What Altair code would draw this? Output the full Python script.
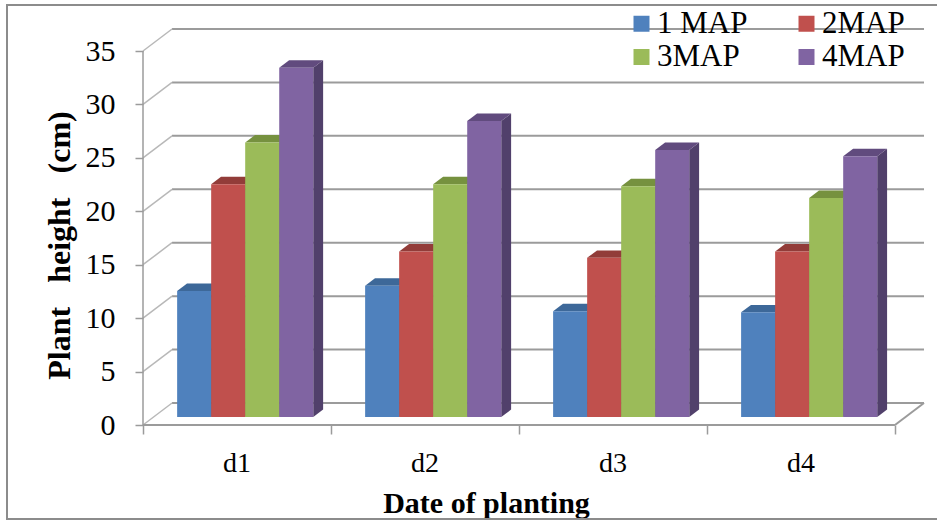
import altair as alt
import pandas as pd

# ---- data -------------------------------------------------------------
DATES = ["d1", "d2", "d3", "d4"]
SERIES = ["1 MAP", "2MAP", "3MAP", "4MAP"]
MAP1 = [11.8, 12.3, 9.9, 9.8]
MAP2 = [21.8, 15.5, 14.9, 15.5]
MAP3 = [25.7, 21.8, 21.6, 20.5]
MAP4 = [32.7, 27.7, 25.0, 24.4]
Y_TICKS = [0, 5, 10, 15, 20, 25, 30, 35]

# ---- styles -----------------------------------------------------------
FRONT = ["#4F81BD", "#C0504D", "#9BBB59", "#8064A2"]
TOP = ["#3D6899", "#923C39", "#76913F", "#614B7E"]
SIDE = ["#31577F", "#7F3432", "#627833", "#51406B"]
FONT = "Liberation Serif"
GRID = "#9b9b9b"
WALL = "#b8b8b8"

# oblique projection of the box (depth expressed in data units)
DX = 0.1545   # horizontal shift of the full depth, in category units
DY = 2.06     # vertical shift of the full depth, in value units
F0 = 0.36     # depth at which the bar front faces sit
FD = 0.34     # depth of a bar
W = 0.181     # bar width
NUDGE = 0.012  # groups sit slightly left of the category centre
N = len(DATES)

XS = alt.Scale(domain=[0, N + DX], nice=False, zero=False)
YS = alt.Scale(domain=[0, 35 + DY], nice=False, zero=False)

X_AXIS = alt.Axis(
    values=list(range(N + 1)), labels=False, domain=False, grid=False,
    tickSize=9, tickColor=GRID, tickWidth=1.5,
    title="Date of planting", titleFont=FONT, titleFontSize=30,
    titleFontWeight="bold", titleColor="black", titleX=343, titleY=87,
    titleBaseline="alphabetic", titleAlign="center")
Y_AXIS = alt.Axis(
    values=Y_TICKS, domain=False, grid=False, tickSize=8, tickColor=GRID,
    tickWidth=1.5, labelFont=FONT, labelFontSize=30, labelColor="black",
    labelPadding=20,
    title="Plant\u00a0\u00a0\u00a0height\u00a0\u00a0\u00a0(cm)",
    titleFont=FONT, titleFontSize=32, titleFontWeight="bold",
    titleColor="black", titleX=-74, titleY=216, titleAngle=270,
    titleBaseline="alphabetic", titleAlign="center")

# ---- geometry built from the data -------------------------------------
values = [MAP1, MAP2, MAP3, MAP4]
front, side, cap = [], [], []
for i, d in enumerate(DATES):
    left = i + 0.5 + F0 * DX - 2 * W - NUDGE
    for j, s in enumerate(SERIES):
        v = values[j][i]
        x0 = left + j * W
        x1 = x0 + W
        key = f"{d}-{s}"
        front.append(dict(series=s, x=x0, x2=x1, y=F0 * DY, y2=v + F0 * DY))
        for t in (0.0, 1.0):
            sh = t * FD
            side.append(dict(key=key, series=s, x=x1 + sh * DX,
                             y=(F0 + sh) * DY, y2=v + (F0 + sh) * DY))
            cap.append(dict(key=key, series=s, y=v + (F0 + sh) * DY,
                            x=x0 + sh * DX, x2=x1 + sh * DX))
front, side, cap = map(pd.DataFrame, (front, side, cap))

back_grid = pd.DataFrame(dict(x=DX, x2=N + DX, y=[v + DY for v in Y_TICKS]))
side_wall = pd.DataFrame(dict(x=0.0, x2=DX, y=Y_TICKS,
                              y2=[v + DY for v in Y_TICKS]))
floor = pd.DataFrame(dict(x=[0.0, N], x2=[N, N + DX], y=[0.0, 0.0],
                          y2=[0.0, DY]))
front_axis = pd.DataFrame(dict(x=[0.0], y=[0.0], y2=[max(Y_TICKS)]))
labels = pd.DataFrame(dict(date=DATES, x=[i + 0.5 for i in range(N)], y=0.0))

# ---- layers -----------------------------------------------------------
def X(field="x"):
    return alt.X(f"{field}:Q", scale=XS, axis=X_AXIS)

def Y(field="y"):
    return alt.Y(f"{field}:Q", scale=YS, axis=Y_AXIS)

grid_l = alt.Chart(back_grid).mark_rule(color=GRID, strokeWidth=2).encode(
    x=X(), x2="x2:Q", y=Y())
wall_l = alt.Chart(side_wall).mark_rule(color=WALL, strokeWidth=1.5).encode(
    x=X(), x2="x2:Q", y=Y(), y2="y2:Q")
floor_l = alt.Chart(floor).mark_rule(color=GRID, strokeWidth=2).encode(
    x=X(), x2="x2:Q", y=Y(), y2="y2:Q")
axis_l = alt.Chart(front_axis).mark_rule(color=GRID, strokeWidth=1.5).encode(
    x=X(), y=Y(), y2="y2:Q")

side_l = alt.Chart(side).mark_area(orient="vertical", opacity=1).encode(
    x=X(), y=Y(), y2="y2:Q", detail="key:N",
    color=alt.Color("series:N", scale=alt.Scale(domain=SERIES, range=SIDE),
                    legend=None))
cap_l = alt.Chart(cap).mark_area(orient="horizontal", opacity=1).encode(
    y=Y(), x=X(), x2="x2:Q", detail="key:N",
    color=alt.Color("series:N", scale=alt.Scale(domain=SERIES, range=TOP),
                    legend=None))
front_l = alt.Chart(front).mark_rect().encode(
    x=X(), x2="x2:Q", y=Y(), y2="y2:Q",
    color=alt.Color("series:N", scale=alt.Scale(domain=SERIES, range=FRONT),
                    legend=alt.Legend(
                        orient="none", legendX=483, legendY=-21, columns=2,
                        direction="horizontal",
                        title=None, symbolType="square", symbolSize=256,
                        symbolStrokeWidth=0, labelFont=FONT, labelFontSize=31,
                        labelColor="black", labelOffset=0, columnPadding=43,
                        rowPadding=1.5, padding=0, labelLimit=300)))

label_l = alt.Chart(labels).mark_text(
    font=FONT, fontSize=28, color="black", baseline="alphabetic", dy=47
).encode(x=X(), y=Y(), text="date:N")

frame_l = alt.Chart(pd.DataFrame({"k": [0]})).mark_rect(
    fill="transparent", stroke="#8c8c8c", strokeWidth=2
).encode(x=alt.value(-136), x2=alt.value(820), y=alt.value(-24),
         y2=alt.value(490))

chart = alt.layer(
    frame_l, grid_l, wall_l, floor_l, axis_l, side_l, cap_l, front_l, label_l
).resolve_scale(color="independent").properties(
    width=781, height=396,
    padding={"left": 143, "top": 29, "right": 13, "bottom": 95},
    autosize=alt.AutoSizeParams(type="none"),
    background="white",
).configure_view(strokeWidth=0)

chart.save("out.html", embed_options={"renderer": "svg", "actions": False})
